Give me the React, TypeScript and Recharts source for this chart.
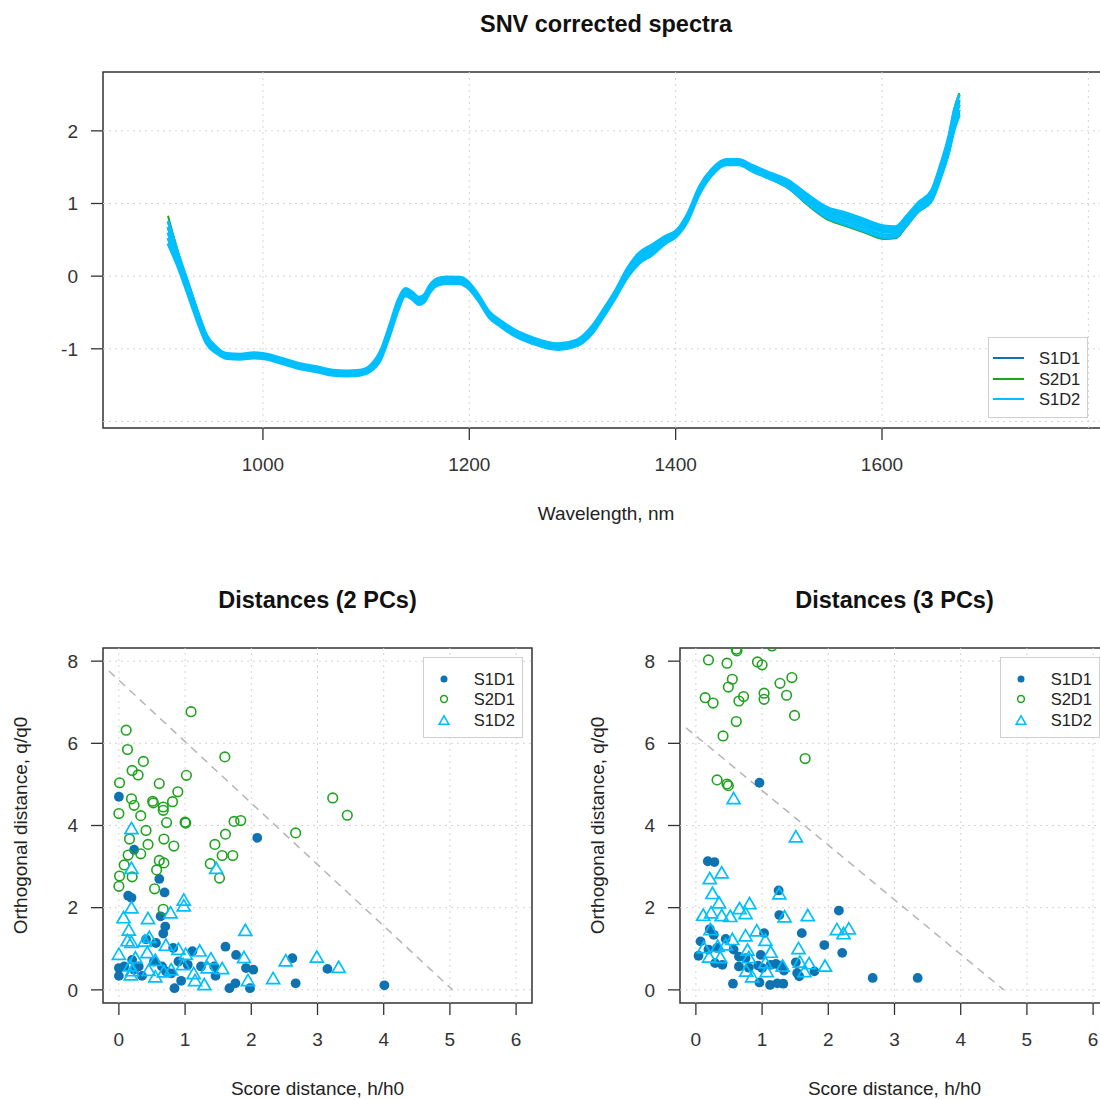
import React from 'react';
import {
  LineChart,
  Line,
  ScatterChart,
  Scatter,
  XAxis,
  YAxis,
  ReferenceLine,
  ReferenceArea,
  Legend,
  Label,
} from 'recharts';

const FONT = '"Liberation Sans", Arial, Helvetica, sans-serif';
const COL_S1D1 = '#0e73b0';
const COL_S2D1 = '#1fa31f';
const COL_S1D2 = '#00bfff';
const AXIS_COL = '#333333';
const GRID_COL = '#d4d4d4';
const TEXT_COL = '#222222';

const seriesNames = ['S1D1', 'S2D1', 'S1D2'];

// ---------- SNV corrected spectra ----------
const wavelengths = [
  908, 919, 929, 939, 945, 955, 965, 978, 991, 1000, 1017, 1036, 1052, 1068, 1081, 1094, 1104, 1114, 1123, 1131,
  1138, 1144, 1151, 1156, 1162, 1169, 1178, 1191, 1198, 1208, 1220, 1230, 1245, 1260, 1286, 1304, 1319, 1330, 1342, 1353,
  1364, 1377, 1390, 1401, 1412, 1423, 1435, 1449, 1461, 1475, 1490, 1509, 1527, 1546, 1565, 1583, 1602, 1613, 1624, 1635,
  1648, 1656, 1665, 1670, 1675,
];
const s1d1Spectrum = [
  0.66, 0.2, -0.22, -0.63, -0.85, -1.01, -1.09, -1.1, -1.08, -1.09, -1.15, -1.23, -1.27, -1.32, -1.33, -1.32, -1.26, -1.08, -0.73, -0.39,
  -0.21, -0.25, -0.33, -0.3, -0.16, -0.07, -0.05, -0.05, -0.1, -0.27, -0.53, -0.64, -0.78, -0.87, -0.96, -0.91, -0.73, -0.5, -0.23, 0.05,
  0.25, 0.37, 0.51, 0.6, 0.83, 1.19, 1.44, 1.58, 1.58, 1.49, 1.4, 1.28, 1.09, 0.9, 0.81, 0.72, 0.63, 0.63, 0.78, 0.96,
  1.12, 1.42, 1.85, 2.17, 2.4,
];
const s2d1SpectrumHigh = [
  0.83, 0.27, -0.15, -0.57, -0.8, -0.98, -1.07, -1.08, -1.06, -1.07, -1.13, -1.21, -1.25, -1.3, -1.31, -1.3, -1.24, -1.04, -0.68, -0.34,
  -0.18, -0.22, -0.3, -0.27, -0.13, -0.04, -0.02, -0.02, -0.07, -0.25, -0.51, -0.62, -0.76, -0.85, -0.94, -0.89, -0.7, -0.47, -0.2, 0.09,
  0.3, 0.42, 0.54, 0.63, 0.86, 1.22, 1.46, 1.6, 1.6, 1.51, 1.42, 1.31, 1.11, 0.93, 0.84, 0.75, 0.66, 0.65, 0.81, 0.99,
  1.17, 1.49, 1.94, 2.3, 2.52,
];
const s2d1SpectrumLow = [
  0.52, 0.1, -0.3, -0.7, -0.9, -1.05, -1.12, -1.13, -1.11, -1.12, -1.18, -1.26, -1.3, -1.35, -1.36, -1.35, -1.3, -1.13, -0.8, -0.46,
  -0.27, -0.31, -0.38, -0.35, -0.21, -0.12, -0.1, -0.1, -0.15, -0.31, -0.57, -0.68, -0.82, -0.91, -1.0, -0.95, -0.78, -0.55, -0.28, -0.01,
  0.18, 0.3, 0.46, 0.56, 0.78, 1.14, 1.4, 1.54, 1.54, 1.44, 1.35, 1.21, 0.99, 0.79, 0.69, 0.6, 0.51, 0.52, 0.69, 0.88,
  1.03, 1.32, 1.72, 2.03, 2.25,
];
const s1d2SpectrumHigh = [
  0.76, 0.26, -0.16, -0.58, -0.8, -0.98, -1.065, -1.075, -1.055, -1.065, -1.125, -1.205, -1.245, -1.295, -1.305, -1.295, -1.23, -1.03, -0.67, -0.33,
  -0.17, -0.21, -0.29, -0.26, -0.12, -0.035, -0.01, -0.015, -0.065, -0.24, -0.5, -0.61, -0.75, -0.84, -0.93, -0.88, -0.69, -0.46, -0.19, 0.1,
  0.31, 0.43, 0.55, 0.63, 0.87, 1.23, 1.47, 1.605, 1.605, 1.52, 1.43, 1.32, 1.13, 0.95, 0.87, 0.78, 0.69, 0.68, 0.83, 1.01,
  1.18, 1.5, 1.94, 2.28, 2.5,
];
const s1d2SpectrumUpper = [
  0.68, 0.215, -0.2, -0.615, -0.83, -1.0, -1.08, -1.09, -1.07, -1.08, -1.14, -1.22, -1.26, -1.31, -1.32, -1.31, -1.25, -1.06, -0.705, -0.365,
  -0.195, -0.235, -0.315, -0.285, -0.145, -0.058, -0.032, -0.038, -0.088, -0.26, -0.52, -0.63, -0.77, -0.86, -0.95, -0.9, -0.715, -0.485, -0.215, 0.07,
  0.275, 0.395, 0.525, 0.61, 0.845, 1.205, 1.45, 1.588, 1.588, 1.5, 1.41, 1.295, 1.1, 0.915, 0.83, 0.74, 0.65, 0.645, 0.8, 0.98,
  1.145, 1.455, 1.885, 2.215, 2.43,
];
const s1d2SpectrumMid = [
  0.6, 0.17, -0.24, -0.65, -0.86, -1.02, -1.1, -1.11, -1.09, -1.1, -1.16, -1.24, -1.28, -1.33, -1.34, -1.33, -1.27, -1.09, -0.74, -0.4,
  -0.22, -0.26, -0.34, -0.31, -0.17, -0.08, -0.055, -0.06, -0.11, -0.28, -0.54, -0.65, -0.79, -0.88, -0.97, -0.92, -0.74, -0.51, -0.24, 0.04,
  0.24, 0.36, 0.5, 0.59, 0.82, 1.18, 1.43, 1.57, 1.57, 1.48, 1.39, 1.27, 1.07, 0.88, 0.79, 0.7, 0.61, 0.61, 0.77, 0.95,
  1.11, 1.41, 1.83, 2.15, 2.36,
];
const s1d2SpectrumLower = [
  0.525, 0.125, -0.28, -0.685, -0.89, -1.04, -1.118, -1.128, -1.108, -1.118, -1.178, -1.258, -1.298, -1.348, -1.358, -1.348, -1.29, -1.12, -0.775, -0.435,
  -0.245, -0.285, -0.365, -0.335, -0.195, -0.102, -0.078, -0.082, -0.132, -0.3, -0.56, -0.67, -0.81, -0.9, -0.99, -0.94, -0.765, -0.535, -0.265, 0.01,
  0.205, 0.325, 0.475, 0.57, 0.795, 1.155, 1.41, 1.552, 1.552, 1.46, 1.37, 1.245, 1.04, 0.845, 0.75, 0.66, 0.57, 0.575, 0.74, 0.92,
  1.075, 1.365, 1.775, 2.085, 2.29,
];
const s1d2SpectrumLow = [
  0.45, 0.08, -0.32, -0.72, -0.92, -1.06, -1.135, -1.145, -1.125, -1.135, -1.195, -1.275, -1.315, -1.365, -1.375, -1.365, -1.31, -1.15, -0.81, -0.47,
  -0.27, -0.31, -0.39, -0.36, -0.22, -0.125, -0.1, -0.105, -0.155, -0.32, -0.58, -0.69, -0.83, -0.92, -1.01, -0.96, -0.79, -0.56, -0.29, -0.02,
  0.17, 0.29, 0.45, 0.55, 0.77, 1.13, 1.39, 1.535, 1.535, 1.44, 1.35, 1.22, 1.01, 0.81, 0.71, 0.62, 0.53, 0.54, 0.71, 0.89,
  1.04, 1.32, 1.72, 2.02, 2.22,
];

const spectraXDomain = [845, 1820];
const spectraYDomain = [-2.09, 2.81];
const spectraXTicks = [1000, 1200, 1400, 1600];
const spectraYTicks = [-1, 0, 1, 2];
const spectraGridX = [1000, 1200, 1400, 1600, 1800];
const spectraGridY = [-2, -1, 0, 1, 2];

// ---------- Distances (2 PCs) ----------
const dist2S1D1: [number, number][] = [
  [0.0, 4.7], [0.23, 3.41], [2.09, 3.7], [0.61, 2.7], [0.14, 2.29], [0.19, 2.24], [0.69, 2.37], [0.63, 1.79], [0.7, 1.54], [0.67, 1.37],
  [0.0, 0.53], [0.08, 0.57], [0.0, 0.34], [0.2, 0.73], [0.23, 0.49], [0.3, 0.57], [0.35, 0.34], [0.41, 1.23], [0.53, 0.69], [0.56, 1.14],
  [0.65, 0.57], [0.71, 0.45], [0.79, 0.4], [0.82, 1.02], [0.9, 0.69], [0.94, 0.22], [0.84, 0.04], [1.04, 0.61], [1.11, 0.94], [1.24, 0.57],
  [1.44, 0.57], [1.46, 0.34], [1.61, 1.05], [1.77, 0.85], [1.67, 0.04], [1.76, 0.16], [1.92, 0.53], [2.03, 0.49], [1.98, 0.04], [2.62, 0.77],
  [2.67, 0.16], [3.15, 0.51], [4.01, 0.11],
];
const dist2S2D1: [number, number][] = [
  [1.09, 6.77], [0.11, 6.32], [0.13, 5.85], [0.37, 5.56], [0.2, 5.34], [0.29, 5.23], [1.02, 5.22], [1.6, 5.67], [0.01, 5.04], [0.61, 5.02],
  [0.89, 4.82], [0.19, 4.65], [0.23, 4.49], [0.51, 4.59], [0.52, 4.55], [0.81, 4.58], [0.67, 4.45], [0.67, 4.37], [0.0, 4.29], [0.33, 4.24],
  [0.72, 4.07], [1.0, 4.08], [1.01, 4.06], [1.74, 4.1], [1.84, 4.12], [3.23, 4.67], [3.45, 4.25], [0.41, 3.88], [1.61, 3.79], [2.67, 3.82],
  [0.16, 3.67], [0.44, 3.54], [0.68, 3.67], [0.83, 3.5], [1.45, 3.54], [0.33, 3.31], [0.14, 3.28], [1.56, 3.27], [1.72, 3.27], [0.61, 3.15],
  [0.68, 3.09], [0.08, 3.04], [1.38, 3.07], [0.57, 2.92], [0.01, 2.77], [0.2, 2.75], [1.52, 2.72], [0.0, 2.52], [0.54, 2.46], [0.67, 1.96],
];
const dist2S1D2: [number, number][] = [
  [0.19, 3.94], [0.19, 2.97], [1.47, 2.97], [0.98, 2.2], [0.98, 2.06], [0.19, 2.01], [0.07, 1.77], [0.44, 1.75], [0.78, 1.89], [0.15, 1.47],
  [1.91, 1.46], [0.13, 1.21], [0.19, 1.17], [0.46, 1.29], [0.39, 1.2], [0.0, 0.88], [0.71, 1.1], [0.9, 1.0], [1.01, 0.88], [1.22, 0.96],
  [0.25, 0.79], [0.43, 0.92], [0.55, 0.73], [1.39, 0.77], [1.89, 0.8], [2.52, 0.72], [2.99, 0.81], [3.32, 0.56], [2.33, 0.29], [1.95, 0.24],
  [1.29, 0.14], [1.15, 0.24], [1.13, 0.41], [1.56, 0.53], [1.34, 0.55], [0.97, 0.63], [0.79, 0.5], [0.68, 0.45], [0.55, 0.33], [0.18, 0.38],
  [0.2, 0.48], [0.17, 0.6], [0.45, 0.49],
];
const limit2PCs: [number, number][] = [[-0.15, 7.76], [5.04, 0.0]];

// ---------- Distances (3 PCs) ----------
const dist3S1D1: [number, number][] = [
  [0.96, 5.04], [0.18, 3.13], [0.28, 3.11], [1.25, 2.42], [1.26, 1.82], [2.16, 1.93], [1.6, 1.38], [1.94, 1.09], [2.21, 0.9], [2.67, 0.29],
  [3.35, 0.29], [0.21, 1.48], [0.27, 1.34], [0.07, 1.18], [0.04, 0.83], [0.19, 0.98], [0.32, 1.02], [0.29, 0.65], [0.4, 0.61], [0.45, 1.24],
  [0.57, 0.98], [0.65, 0.81], [0.65, 0.57], [0.75, 0.77], [0.8, 0.54], [0.94, 0.59], [0.98, 0.85], [1.03, 1.38], [1.13, 0.61], [1.21, 0.63],
  [1.28, 0.59], [1.33, 0.47], [1.51, 0.67], [1.53, 0.41], [1.56, 0.33], [1.79, 0.45], [0.56, 0.15], [0.96, 0.18], [1.12, 0.12], [1.23, 0.16],
  [1.32, 0.15], [1.0, 0.53],
];
const dist3S2D1: [number, number][] = [
  [0.61, 8.29], [0.62, 8.25], [1.15, 8.37], [0.19, 8.03], [0.47, 7.95], [0.93, 7.98], [1.0, 7.91], [1.45, 7.6], [0.55, 7.56], [0.49, 7.37],
  [1.27, 7.46], [0.14, 7.11], [0.26, 6.98], [0.72, 7.14], [0.65, 7.03], [1.03, 7.22], [1.03, 7.07], [1.37, 7.17], [1.49, 6.68], [0.61, 6.53],
  [0.41, 6.18], [1.65, 5.63], [0.32, 5.11], [0.47, 5.01], [0.49, 4.97],
];
const dist3S1D2: [number, number][] = [
  [0.57, 4.67], [1.51, 3.74], [0.21, 2.72], [0.39, 2.86], [0.25, 2.36], [0.35, 2.13], [0.11, 1.83], [0.23, 1.89], [0.39, 1.82], [0.52, 1.8],
  [0.66, 1.99], [0.81, 2.11], [0.75, 1.87], [1.26, 2.35], [1.34, 1.79], [1.69, 1.82], [0.22, 1.48], [0.75, 1.33], [0.92, 1.45], [1.05, 1.22],
  [0.55, 1.24], [0.45, 1.11], [0.33, 1.07], [0.12, 1.04], [0.2, 0.81], [0.37, 0.8], [0.78, 0.98], [0.8, 0.8], [1.13, 0.93], [1.05, 0.67],
  [0.76, 0.47], [0.85, 0.33], [1.07, 0.46], [1.55, 1.02], [1.57, 0.69], [1.71, 0.65], [1.64, 0.46], [1.31, 0.59], [1.95, 0.59], [2.13, 1.48],
  [2.23, 1.38], [2.31, 1.5],
];
const limit3PCs: [number, number][] = [[-0.15, 6.38], [4.65, 0.0]];

const distXDomain = [-0.24, 6.24];
const distYDomain = [-0.32, 8.32];
const distXTicks = [0, 1, 2, 3, 4, 5, 6];
const distYTicks = [0, 2, 4, 6, 8];

// ---------- helpers ----------
const spectraRows = wavelengths.map((nm, i) => ({
  nm,
  s1d1: s1d1Spectrum[i],
  s2d1a: s2d1SpectrumHigh[i],
  s2d1b: s2d1SpectrumLow[i],
  s1d2a: s1d2SpectrumHigh[i],
  s1d2b: s1d2SpectrumUpper[i],
  s1d2c: s1d2SpectrumMid[i],
  s1d2d: s1d2SpectrumLower[i],
  s1d2e: s1d2SpectrumLow[i],
}));

const spectraLines = [
  { key: 's1d1', color: COL_S1D1, width: 2 },
  { key: 's2d1a', color: COL_S2D1, width: 2 },
  { key: 's2d1b', color: COL_S2D1, width: 2 },
  { key: 's1d2a', color: COL_S1D2, width: 3 },
  { key: 's1d2b', color: COL_S1D2, width: 3 },
  { key: 's1d2c', color: COL_S1D2, width: 3 },
  { key: 's1d2d', color: COL_S1D2, width: 3 },
  { key: 's1d2e', color: COL_S1D2, width: 3 },
];

const toPoints = (arr: [number, number][]) => arr.map(([x, y]) => ({ x, y }));

const tickStyle = { fill: AXIS_COL, fontSize: 19, fontFamily: FONT };
const tickLineStyle = { stroke: AXIS_COL, strokeWidth: 1.3 };

const xTitle = (text: string) => (props: any) => {
  const vb = props.viewBox || {};
  const x = vb.x + vb.width / 2;
  const y = vb.y + 85;
  return (
    <text x={x} y={y} dy="0.35em" textAnchor="middle" fontSize={19} fill={TEXT_COL} fontFamily={FONT}>
      {text}
    </text>
  );
};

const yTitle = (text: string) => (props: any) => {
  const vb = props.viewBox || {};
  const cx = vb.x + vb.width - 83;
  const cy = vb.y + vb.height / 2;
  return (
    <text
      x={cx}
      y={cy}
      dy="0.35em"
      textAnchor="middle"
      transform={`rotate(-90 ${cx} ${cy})`}
      fontSize={19}
      fill={TEXT_COL}
      fontFamily={FONT}
    >
      {text}
    </text>
  );
};

const FilledDot = (props: any) => <circle cx={props.cx} cy={props.cy} r={4.9} fill={COL_S1D1} />;
const OpenDot = (props: any) => (
  <circle cx={props.cx} cy={props.cy} r={4.8} fill="none" stroke={COL_S2D1} strokeWidth={1.6} />
);
const Triangle = (props: any) => {
  const { cx, cy } = props;
  const w = 13;
  const h = 11.2;
  return (
    <polygon
      points={`${cx},${cy - h / 2} ${cx - w / 2},${cy + h / 2} ${cx + w / 2},${cy + h / 2}`}
      fill="none"
      stroke={COL_S1D2}
      strokeWidth={1.7}
    />
  );
};

const legendBox: React.CSSProperties = {
  width: 100,
  height: 81,
  boxSizing: 'border-box',
  border: '1.5px solid #cfcfcf',
  background: '#fff',
  position: 'relative',
  fontFamily: FONT,
};

const spectraColors = [COL_S1D1, COL_S2D1, COL_S1D2];

const SpectraLegend = () => (
  <div style={legendBox}>
    {seriesNames.map((name, i) => (
      <div key={name} style={{ position: 'absolute', left: 0, top: 20 + 20.5 * i - 10, height: 20, width: 100 }}>
        <svg width={40} height={20} style={{ position: 'absolute', left: 0, top: 0 }}>
          <line x1={4} x2={35} y1={10} y2={10} stroke={spectraColors[i]} strokeWidth={2} />
        </svg>
        <span
          style={{ position: 'absolute', left: 50, top: 0, lineHeight: '20px', fontSize: 16.5, color: TEXT_COL }}
        >
          {name}
        </span>
      </div>
    ))}
  </div>
);

const LegendSymbol = ({ i }: { i: number }) => {
  if (i === 0) return <circle cx={20} cy={10} r={3.5} fill={COL_S1D1} />;
  if (i === 1) return <circle cx={20} cy={10} r={3.4} fill="none" stroke={COL_S2D1} strokeWidth={1.5} />;
  return (
    <polygon points={`20,5.8 15.2,14.2 24.8,14.2`} fill="none" stroke={COL_S1D2} strokeWidth={1.6} />
  );
};

const DistLegend = () => (
  <div style={legendBox}>
    {seriesNames.map((name, i) => (
      <div key={name} style={{ position: 'absolute', left: 0, top: 21 + 20.5 * i - 10, height: 20, width: 100 }}>
        <svg width={40} height={20} style={{ position: 'absolute', left: 0, top: 0 }}>
          <LegendSymbol i={i} />
        </svg>
        <span
          style={{ position: 'absolute', left: 50, top: 0, lineHeight: '20px', fontSize: 16.5, color: TEXT_COL }}
        >
          {name}
        </span>
      </div>
    ))}
  </div>
);

const Title = ({ text, cx, cy }: { text: string; cx: number; cy: number }) => (
  <div
    style={{
      position: 'absolute',
      left: cx - 300,
      width: 600,
      top: cy - 15,
      height: 30,
      lineHeight: '30px',
      textAlign: 'center',
      fontWeight: 'bold',
      fontSize: 23.5,
      color: '#111',
      fontFamily: FONT,
    }}
  >
    {text}
  </div>
);

const DistChart = ({
  s1d1,
  s2d1,
  s1d2,
  limit,
}: {
  s1d1: [number, number][];
  s2d1: [number, number][];
  s1d2: [number, number][];
  limit: [number, number][];
}) => (
  <ScatterChart width={577} height={540} margin={{ top: 88, right: 45, bottom: 57, left: 43 }}>
    <XAxis
      type="number"
      dataKey="x"
      domain={distXDomain}
      ticks={distXTicks}
      interval={0}
      allowDataOverflow
      axisLine={false}
      tickLine={tickLineStyle}
      tickSize={12}
      tickMargin={18}
      tick={tickStyle}
      height={40}
    >
      <Label content={xTitle('Score distance, h/h0')} />
    </XAxis>
    <YAxis
      type="number"
      dataKey="y"
      domain={distYDomain}
      ticks={distYTicks}
      interval={0}
      allowDataOverflow
      axisLine={false}
      tickLine={tickLineStyle}
      tickSize={12}
      tickMargin={13}
      tick={tickStyle}
      width={60}
    >
      <Label content={yTitle('Orthogonal distance, q/q0')} />
    </YAxis>
    {distXTicks.map((v) => (
      <ReferenceLine key={'gx' + v} x={v} stroke={GRID_COL} strokeDasharray="2 4" />
    ))}
    {distYTicks.map((v) => (
      <ReferenceLine key={'gy' + v} y={v} stroke={GRID_COL} strokeDasharray="2 4" />
    ))}
    <ReferenceLine
      segment={limit.map(([x, y]) => ({ x, y }))}
      stroke="#b5b5b5"
      strokeWidth={1.5}
      strokeDasharray="8 6"
    />
    <Scatter name="S1D1" data={toPoints(s1d1)} shape={FilledDot} isAnimationActive={false} />
    <Scatter name="S2D1" data={toPoints(s2d1)} shape={OpenDot} isAnimationActive={false} />
    <Scatter name="S1D2" data={toPoints(s1d2)} shape={Triangle} isAnimationActive={false} />
    <ReferenceArea
      x1={distXDomain[0]}
      x2={distXDomain[1]}
      y1={distYDomain[0]}
      y2={distYDomain[1]}
      fill="none"
      stroke={AXIS_COL}
      strokeWidth={1.5}
      ifOverflow="visible"
    />
    <Legend
      layout="vertical"
      align="center"
      verticalAlign="middle"
      wrapperStyle={{ left: 422.7, top: 96.7, width: 100, height: 81 }}
      content={() => <DistLegend />}
    />
  </ScatterChart>
);

export default function App() {
  return (
    <div
      style={{
        position: 'absolute',
        left: 0,
        top: 0,
        width: 1100,
        height: 1100,
        overflow: 'hidden',
        background: '#fff',
        fontFamily: FONT,
      }}
    >
      <div style={{ position: 'absolute', left: 0, top: 0 }}>
        <LineChart width={1154} height={560} data={spectraRows} margin={{ top: 72, right: 45, bottom: 92, left: 43 }}>
          <XAxis
            type="number"
            dataKey="nm"
            domain={spectraXDomain}
            ticks={spectraXTicks}
            interval={0}
            allowDataOverflow
            axisLine={false}
            tickLine={tickLineStyle}
            tickSize={12}
            tickMargin={18}
            tick={tickStyle}
            height={40}
          >
            <Label content={xTitle('Wavelength, nm')} />
          </XAxis>
          <YAxis
            type="number"
            domain={spectraYDomain}
            ticks={spectraYTicks}
            interval={0}
            allowDataOverflow
            axisLine={false}
            tickLine={tickLineStyle}
            tickSize={12}
            tickMargin={13}
            tick={tickStyle}
            width={60}
          />
          {spectraGridX.map((v) => (
            <ReferenceLine key={'sx' + v} x={v} stroke={GRID_COL} strokeDasharray="2 4" />
          ))}
          {spectraGridY.map((v) => (
            <ReferenceLine key={'sy' + v} y={v} stroke={GRID_COL} strokeDasharray="2 4" />
          ))}
          {spectraLines.map((l) => (
            <Line
              key={l.key}
              type="monotone"
              dataKey={l.key}
              stroke={l.color}
              strokeWidth={l.width}
              dot={false}
              activeDot={false}
              isAnimationActive={false}
            />
          ))}
          <ReferenceArea
            x1={spectraXDomain[0]}
            x2={spectraXDomain[1]}
            y1={spectraYDomain[0]}
            y2={spectraYDomain[1]}
            fill="none"
            stroke={AXIS_COL}
            strokeWidth={1.5}
            ifOverflow="visible"
          />
          <Legend
            layout="vertical"
            align="center"
            verticalAlign="middle"
            wrapperStyle={{ left: 988, top: 337, width: 100, height: 81 }}
            content={() => <SpectraLegend />}
          />
        </LineChart>
      </div>
      <Title text="SNV corrected spectra" cx={606} cy={24} />
      <div style={{ position: 'absolute', left: 0, top: 560 }}>
        <DistChart s1d1={dist2S1D1} s2d1={dist2S2D1} s1d2={dist2S1D2} limit={limit2PCs} />
      </div>
      <div style={{ position: 'absolute', left: 577, top: 560 }}>
        <DistChart s1d1={dist3S1D1} s2d1={dist3S2D1} s1d2={dist3S1D2} limit={limit3PCs} />
      </div>
      <Title text="Distances (2 PCs)" cx={317.5} cy={600} />
      <Title text="Distances (3 PCs)" cx={894.5} cy={600} />
    </div>
  );
}
